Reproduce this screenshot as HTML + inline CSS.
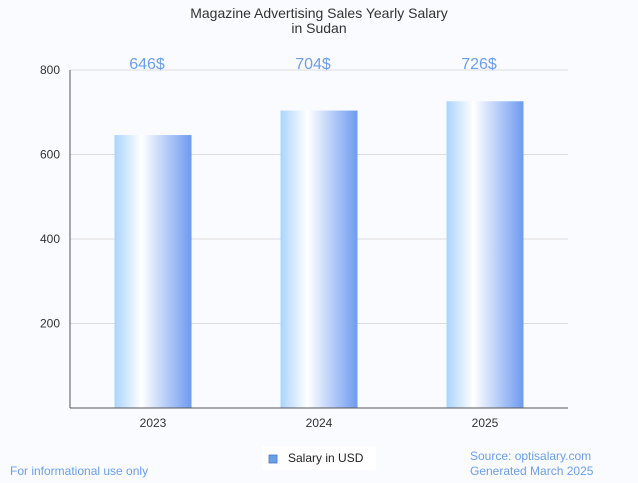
<!DOCTYPE html>
<html><head><meta charset="utf-8"><style>
body{margin:0;background:#fafbfe;font-family:"Liberation Sans",sans-serif;}
</style></head><body>
<svg width="638" height="478" xmlns="http://www.w3.org/2000/svg">
<defs>
<linearGradient id="bg" x1="0" x2="1" y1="0" y2="0">
<stop offset="0" stop-color="#aad4fd"/>
<stop offset="0.35" stop-color="#ffffff"/>
<stop offset="1" stop-color="#6e9af0"/>
</linearGradient>
</defs>
<text x="319" y="18" text-anchor="middle" font-size="14" fill="#333">Magazine Advertising Sales Yearly Salary</text>
<text x="319" y="33" text-anchor="middle" font-size="14" fill="#333">in Sudan</text>
<g id="grid"></g>
<g id="bars"></g>
<line x1="70" y1="70" x2="70" y2="408" stroke="#555"/>
<line x1="70" y1="408" x2="568" y2="408" stroke="#555"/>
<rect x="262" y="446" width="114" height="24" fill="#fff"/>
<rect x="269" y="455" width="8" height="8" fill="#6aa0e8" stroke="#4477cc" stroke-width="0.8"/>
<text x="288" y="462" font-size="12" fill="#222">Salary in USD</text>
<text x="10" y="475" font-size="12" fill="#6a9ef0">For informational use only</text>
<text x="470" y="460" font-size="12" fill="#6a9ef0">Source: optisalary.com</text>
<text x="470" y="475" font-size="12" fill="#6a9ef0">Generated March 2025</text>
</svg>
<script>
const categories=["2023","2024","2025"];
const values=[646,704,726];
const yTicks=[200,400,600,800];
const NS="http://www.w3.org/2000/svg";
const x0=70,x1=568,y0=408,y1=70,ymax=800;
const yS=v=>y0-(v/ymax)*(y0-y1);
const bw=(x1-x0)/categories.length;
const xC=i=>x0+bw*(i+0.5);
const grid=document.getElementById('grid'),bars=document.getElementById('bars');
function mk(t,a,p){const e=document.createElementNS(NS,t);for(const k in a)e.setAttribute(k,a[k]);p.appendChild(e);return e;}
yTicks.forEach(v=>{
const l=mk('line',{x1:x0,x2:x1,y1:yS(v),y2:yS(v),stroke:'#dddddd'},grid);


const t=mk('text',{x:x0-10,y:yS(v)+4,'text-anchor':'end','font-size':12,fill:'#333'},grid);
t.textContent=v;


});
categories.forEach((c,i)=>{
const w=77;
const r=mk('rect',{x:xC(i)-w/2,y:yS(values[i]),width:w,height:y0-yS(values[i]),fill:'url(#bg)'},bars);


const lb=mk('text',{x:xC(i)-6,y:69,'text-anchor':'middle','font-size':16,fill:'#6a9ef0'},bars);
lb.textContent=values[i]+'$';


const xt=mk('text',{x:xC(i),y:427,'text-anchor':'middle','font-size':12,fill:'#333'},bars);
xt.textContent=c;


});
</script>
</body></html>
